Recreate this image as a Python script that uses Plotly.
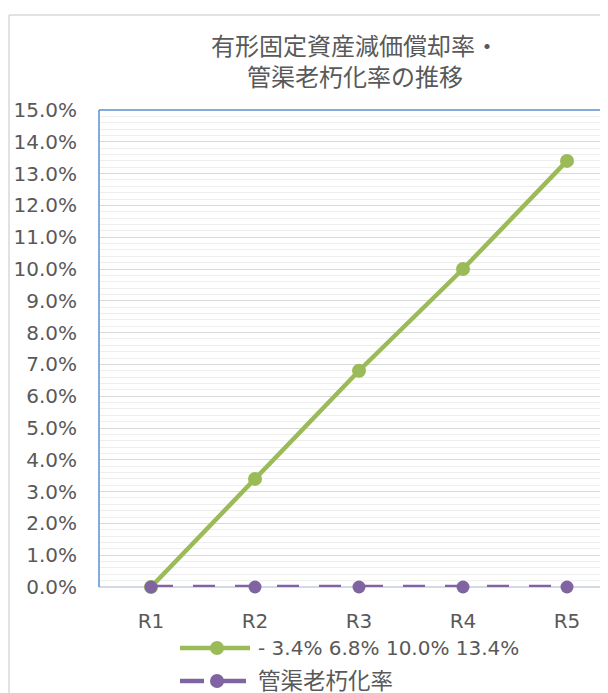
import plotly.graph_objects as go

categories = ["R1", "R2", "R3", "R4", "R5"]
depreciation_rate = [0.0, 0.034, 0.068, 0.100, 0.134]
pipe_aging_rate = [0.0, 0.0, 0.0, 0.0, 0.0]
series_names = ["- 3.4% 6.8% 10.0% 13.4%", "管渠老朽化率"]
series_colors = ["#9BBB59", "#8064A2"]
title_text = "有形固定資産減価償却率・<br>管渠老朽化率の推移"

LATIN = "DejaVu Sans, Noto Sans CJK JP, sans-serif"
CJK = "Noto Sans CJK JP, DejaVu Sans, sans-serif"
GRAY = "#595959"

# page offset of the figure (browser body margin)
OFF = 8
W, H = 600, 685
L, R, T, B = 91, 0, 102, 106
pw, ph = W - L - R, H - T - B


def px_x(page_x):
    return (page_x - OFF - L) / pw


def px_y(page_y):
    return (H - B - (page_y - OFF)) / ph


fig = go.Figure()
fig.add_trace(go.Scatter(
    x=categories, y=depreciation_rate, name=series_names[0],
    mode="lines+markers", showlegend=False,
    line=dict(color=series_colors[0], width=4.5),
    marker=dict(color=series_colors[0], size=14),
    cliponaxis=False,
))
fig.add_trace(go.Scatter(
    x=categories, y=pipe_aging_rate, name=series_names[1],
    mode="lines+markers", showlegend=False,
    line=dict(color=series_colors[1], width=4.5, dash="22px,20px"),
    marker=dict(color=series_colors[1], size=13),
    cliponaxis=False,
))

fig.update_layout(
    width=W, height=H,
    margin=dict(l=L, r=R, t=T, b=B),
    paper_bgcolor="white", plot_bgcolor="white",
    font=dict(family=LATIN, color=GRAY, size=20),
    xaxis=dict(
        type="category",
        range=[-0.5, -0.5 + pw / 104.0],
        showgrid=False, zeroline=False, showline=False,
        ticks="", tickfont=dict(family=LATIN, size=20, color=GRAY),
        ticklabelstandoff=20,
    ),
    yaxis=dict(
        range=[0, 0.15], dtick=0.01, tickformat=".1%",
        showgrid=True, gridcolor="#D9D9D9", gridwidth=1,
        minor=dict(dtick=0.002, showgrid=True, gridcolor="#EEEEEE", gridwidth=1),
        zeroline=False, showline=False, ticks="",
        tickfont=dict(family=LATIN, size=20, color=GRAY),
        ticklabelstandoff=21,
    ),
)

# title (two centred lines)
fig.add_annotation(
    text=title_text, xref="paper", yref="paper",
    x=px_x(355), y=px_y(60), xanchor="center", yanchor="middle",
    showarrow=False, font=dict(family=CJK, size=24, color=GRAY),
)

# x-axis baseline
fig.add_shape(type="line", xref="paper", yref="paper", x0=0, x1=1, y0=0, y1=0,
              line=dict(color="#C5CEDB", width=1.5), layer="below")
# plot-area border (left and top, blue)
fig.add_shape(type="line", xref="paper", yref="paper", x0=0, x1=0, y0=0, y1=1,
              line=dict(color="#5B8FD0", width=1.5))
fig.add_shape(type="line", xref="paper", yref="paper", x0=0, x1=1.01, y0=1, y1=1,
              line=dict(color="#5B8FD0", width=1.5))
# outer chart border
fig.add_shape(type="line", xref="paper", yref="paper",
              x0=px_x(9), x1=px_x(9), y0=px_y(700), y1=px_y(15),
              line=dict(color="#D9D9D9", width=1.5))
fig.add_shape(type="line", xref="paper", yref="paper",
              x0=px_x(9), x1=px_x(620), y0=px_y(15), y1=px_y(15),
              line=dict(color="#D9D9D9", width=1.5))

# custom legend (long line symbols like the original)
leg_rows = [648, 681]
for i, (name, col) in enumerate(zip(series_names, series_colors)):
    yy = px_y(leg_rows[i])
    if i == 0:
        segs = [(180, 250)]
    else:
        segs = [(180, 204), (223, 246)]
    for a, b in segs:
        fig.add_shape(type="line", xref="paper", yref="paper",
                      x0=px_x(a), x1=px_x(b), y0=yy, y1=yy,
                      line=dict(color=col, width=4.5))
    fig.add_shape(type="circle", xref="paper", yref="paper",
                  xsizemode="pixel", ysizemode="pixel",
                  xanchor=px_x(217), yanchor=yy, x0=-7, x1=7, y0=-7, y1=7,
                  fillcolor=col, line=dict(color=col, width=0))
    fig.add_annotation(
        text=name, xref="paper", yref="paper",
        x=px_x(256), y=yy if i == 0 else px_y(679), xanchor="left", yanchor="middle",
        showarrow=False,
        font=dict(family=LATIN if i == 0 else CJK, size=20 if i == 0 else 22.5, color=GRAY),
    )

fig.write_html("out.html")
